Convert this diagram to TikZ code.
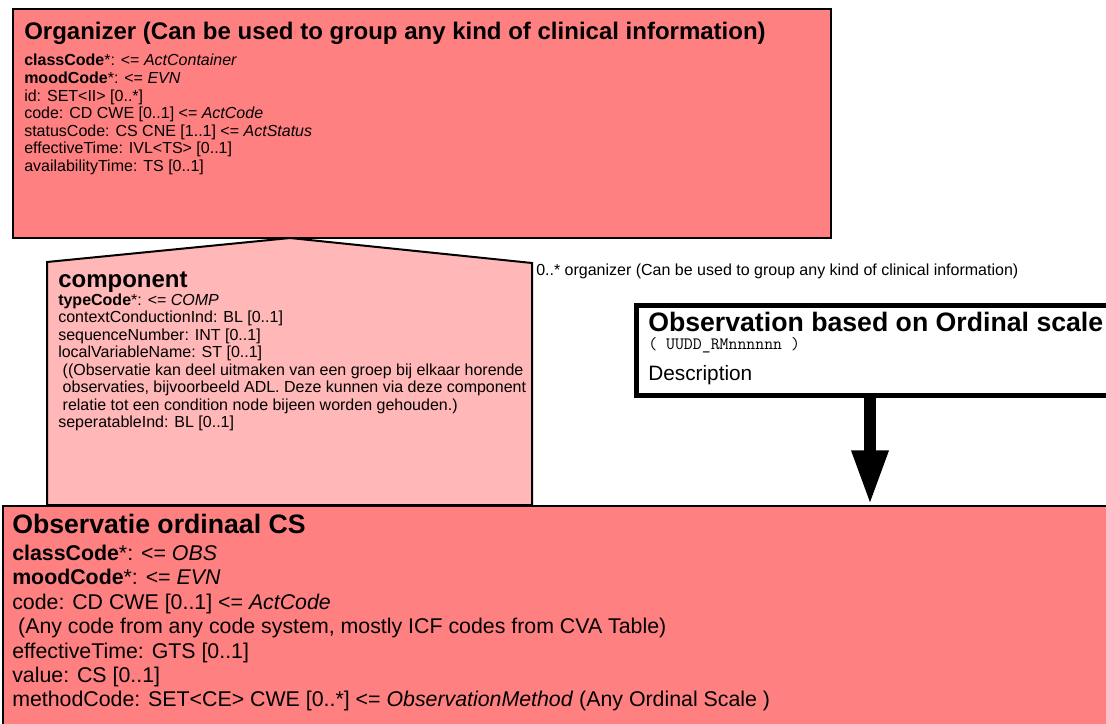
\documentclass[tikz,border=0pt]{standalone}
\usepackage{fontspec}
\setmainfont{Liberation Sans}
\usetikzlibrary{arrows.meta}
\definecolor{actred}{HTML}{FF8080}
\definecolor{comppink}{HTML}{FFB7B7}
\tikzset{
  boxline/.style={draw=black, line width=1.5pt},
  classbox/.style={boxline, fill=actred, anchor=north west, inner sep=0pt},
  ttl/.style={font=\bfseries\fontsize{18pt}{21pt}\selectfont, anchor=base west, inner sep=0pt},
  bigttl/.style={font=\bfseries\fontsize{20pt}{24pt}\selectfont, anchor=base west, inner sep=0pt},
  attr/.style={font=\fontsize{12pt}{14pt}\selectfont, anchor=base west, inner sep=0pt},
  bigattr/.style={font=\fontsize{16pt}{18pt}\selectfont, anchor=base west, inner sep=0pt},
  codetxt/.style={font=\ttfamily\fontsize{13pt}{15pt}\selectfont, anchor=base west, inner sep=0pt},
  bigarrow/.style={line width=9pt, -{Triangle[length=41pt,width=25.5pt]}},
}
\begin{document}
\begin{tikzpicture}[x=0.75pt,y=-0.75pt]
\useasboundingbox (0,0) rectangle (1106,724);
\clip (0,0) rectangle (1106,724);
\fill[white] (0,0) rectangle (1106,724);

% Organizer
\node[classbox, minimum width=613.5pt, minimum height=171.75pt] (org) at (12,8) {};
\node[ttl] (orgtitle) at (24,40) {Organizer (Can be used to group any kind of clinical information)};
\foreach [count=\i] \t in {
  {\textbf{classCode}*: <= \textit{ActContainer}},
  {\textbf{moodCode}*: <= \textit{EVN}},
  {id: SET<II> [0..*]},
  {code: CD CWE [0..1] <= \textit{ActCode}},
  {statusCode: CS CNE [1..1] <= \textit{ActStatus}},
  {effectiveTime: IVL<TS> [0..1]},
  {availabilityTime: TS [0..1]}}
  \node[attr] (orgattr\i) at (24,{66+17.5*(\i-1)}) {\t};

% component (association)
\coordinate (cbl) at (47,505);
\coordinate (ctl) at (47,262);
\coordinate (apex) at (290,238);
\coordinate (ctr) at (532,263);
\coordinate (cbr) at (532,505);
\draw[boxline, fill=comppink, line join=miter] (cbl) -- (ctl) -- (apex) -- (ctr) -- (cbr) -- cycle;
\node[ttl] (comptitle) at (58,287) {component};
\foreach [count=\i] \t in {
  {\textbf{typeCode}*: <= \textit{COMP}},
  {contextConductionInd: BL [0..1]},
  {sequenceNumber: INT [0..1]},
  {localVariableName: ST [0..1]},
  {\ ((Observatie kan deel uitmaken van een groep bij elkaar horende},
  {\ observaties, bijvoorbeeld ADL. Deze kunnen via deze component},
  {\ relatie tot een condition node bijeen worden gehouden.)},
  {seperatableInd: BL [0..1]}}
  \node[attr] (compattr\i) at (58,{305+17.5*(\i-1)}) {\t};

% Observatie ordinaal CS
\node[classbox, minimum width=900pt, minimum height=200pt] (obsv) at (2,505) {};
\node[bigttl] (obsvtitle) at (12,533) {Observatie ordinaal CS};
\foreach [count=\i] \t in {
  {\textbf{classCode}*: <= \textit{OBS}},
  {\textbf{moodCode}*: <= \textit{EVN}},
  {code: CD CWE [0..1] <= \textit{ActCode}},
  {\ (Any code from any code system, mostly ICF codes from CVA Table)},
  {effectiveTime: GTS [0..1]},
  {value: CS [0..1]},
  {methodCode: SET<CE> CWE [0..*] <= \textit{ObservationMethod} (Any Ordinal Scale )}}
  \node[bigattr] (obsvattr\i) at (12,{560.5+24.4*(\i-1)}) {\t};

% Observation based on Ordinal scale
\node[draw=black, line width=3.75pt, fill=white, anchor=north west, inner sep=0pt,
      minimum width=420pt, minimum height=67.5pt] (obs) at (634,303) {};
\node[bigttl] (obstitle) at (648,331) {Observation based on Ordinal scale};
\node[codetxt] (obscode) at (648,349) {( UUDD\_RMnnnnnn )};
\node[font=\fontsize{15.6pt}{18pt}\selectfont, anchor=base west, inner sep=0pt] (obsdesc) at (648,380) {Description};

% arrow
\coordinate (ax) at (870,0);
\draw[bigarrow] (obs.south -| ax) -- (obsv.north -| ax);

% association label
\node[attr] (orglabel) at (536,275) {0..* organizer (Can be used to group any kind of clinical information)};
\end{tikzpicture}
\end{document}
